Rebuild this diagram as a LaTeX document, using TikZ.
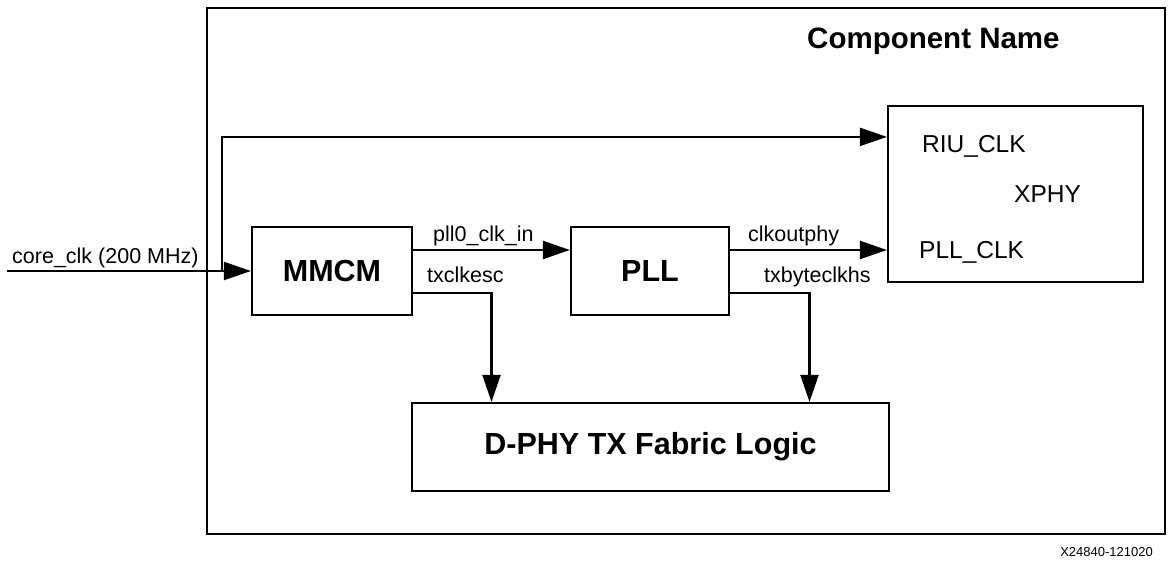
\documentclass[tikz,border=0pt]{standalone}
\usepackage{fontspec}
\setmainfont{Liberation Sans}
\usetikzlibrary{arrows.meta,positioning}

\tikzset{
  blk/.style={draw,line width=2.2pt,inner sep=0pt,font=\bfseries\fontsize{30.5}{35}\selectfont},
  wire/.style={line width=2.2pt,-{Triangle[length=27pt,width=18pt]}},
  sig/.style={inner sep=0pt,anchor=base west,font=\fontsize{21.5}{25}\selectfont},
  port/.style={inner sep=0pt,anchor=base west,font=\fontsize{24.5}{28}\selectfont},
}

\begin{document}
\begin{tikzpicture}[x=1pt,y=-1pt]
            \useasboundingbox (0,0) rectangle (1168,560);
            \draw[line width=2.2pt] (207,8) rectangle (1165,534);
            \node[inner sep=0pt,anchor=base west,font=\bfseries\fontsize{29.5}{34}\selectfont] (title) at (807,48) {Component Name};
            \node[blk,minimum width=160pt,minimum height=88pt] (mmcm) at (332,271) {MMCM};
            \node[blk,minimum width=158pt,minimum height=88pt] (pll) at (650,271) {PLL};
            \node[blk,minimum width=255pt,minimum height=176pt] (xphy) at (1015.5,194) {};
            \node[blk,minimum width=477pt,minimum height=88pt] (fabric) at (650.5,447) {D-PHY TX Fabric Logic};
            \node[port] (riu) at (922,152) {RIU\_CLK};
            \node[port] (xphyname) at (1014,202) {XPHY};
            \node[port] (pllclk) at (919,258) {PLL\_CLK};
            \coordinate (src) at (7,271);
            \coordinate (tap) at (222,271);
            \coordinate (riuin) at ([yshift=-32pt]xphy.north west);
            \draw[wire] (src) -- (mmcm.west);
            \draw[wire] (tap) |- (riuin);
            \draw[wire] ([yshift=21pt]mmcm.east) -- ([yshift=21pt]pll.west);
            \draw[wire] ([yshift=21pt]pll.east) -- ([yshift=21pt]pll.east -| xphy.west);
            \draw[wire] ([yshift=-22pt]mmcm.east) -| ([xshift=-159pt]fabric.north);
            \draw[wire] ([yshift=-22pt]pll.east) -| ([xshift=159pt]fabric.north);
            \node[sig] (coreclk) at (12,263) {core\_clk (200 MHz)};
            \node[sig] (pllin) at (433,241) {pll0\_clk\_in};
            \node[sig] (esc) at (427,282) {txclkesc};
            \node[sig] (outphy) at (748,241) {clkoutphy};
            \node[sig] (bytehs) at (764,282) {txbyteclkhs};
            \node[inner sep=0pt,anchor=base east,font=\fontsize{13}{15}\selectfont] (docid) at (1153,556) {X24840-121020};
\end{tikzpicture}
\end{document}
